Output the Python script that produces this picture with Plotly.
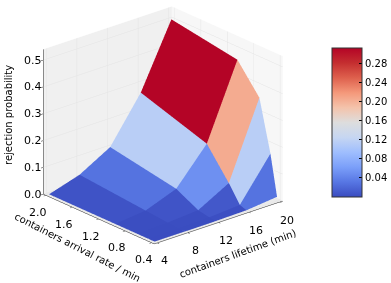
import plotly.graph_objects as go

lifetimes = [4, 8, 12, 16, 20]
rates = [2.0, 1.0, 0.667, 0.5, 0.4]
# rejection probability, rows follow rates, columns follow lifetimes
rejection = [
    [0.000, 0.035, 0.100, 0.265, 0.500],
    [0.000, 0.012, 0.055, 0.185, 0.460],
    [0.000, 0.004, 0.012, 0.075, 0.355],
    [0.000, 0.001, 0.004, 0.012, 0.165],
    [0.000, 0.000, 0.001, 0.003, 0.015],
]
# flat colour value of each surface cell
cell_values = [
    [0.006, 0.030, 0.115, 0.3125],
    [0.002, 0.007, 0.052, 0.205],
    [0.001, 0.002, 0.010, 0.115],
    [0.000, 0.001, 0.003, 0.030],
]
rate_ticks = [0.4, 0.8, 1.2, 1.6, 2.0]
life_ticks = [4, 8, 12, 16, 20]
z_ticks = [0.0, 0.1, 0.2, 0.3, 0.4, 0.5]
cbar_ticks = [0.04, 0.08, 0.12, 0.16, 0.20, 0.24, 0.28]
life_range = [3.6, 20.4]
rate_range = [0.36, 2.04]
z_range = [0, 0.54]

coolwarm = [
    [0.0, "rgb(58,76,192)"], [0.1, "rgb(87,118,227)"], [0.2, "rgb(123,159,249)"],
    [0.3, "rgb(159,190,254)"], [0.4, "rgb(198,214,242)"], [0.5, "rgb(221,221,221)"],
    [0.6, "rgb(244,195,171)"], [0.7, "rgb(244,152,122)"], [0.8, "rgb(222,96,77)"],
    [0.9, "rgb(196,46,48)"], [1.0, "rgb(180,4,38)"],
]

xs, ys, zs, ia, ib, ic, inten = [], [], [], [], [], [], []
nr, nc = len(rates), len(lifetimes)
for r in range(nr):
    for c in range(nc):
        xs.append(lifetimes[c]); ys.append(rates[r]); zs.append(rejection[r][c])
for r in range(nr - 1):
    for c in range(nc - 1):
        p = r * nc + c
        for tri in ((p, p + 1, p + nc), (p + 1, p + nc + 1, p + nc)):
            ia.append(tri[0]); ib.append(tri[1]); ic.append(tri[2])
            inten.append(cell_values[r][c])

font = dict(family="DejaVu Sans", size=10, color="#000")
tick_font = dict(family="DejaVu Sans", size=11, color="#000")
fig = go.Figure(go.Mesh3d(
    x=xs, y=ys, z=zs, i=ia, j=ib, k=ic,
    intensity=inten, intensitymode="cell",
    colorscale=coolwarm, cmin=0, cmax=0.3125, flatshading=True,
    lighting=dict(ambient=1, diffuse=0, specular=0, roughness=1, fresnel=0),
    hoverinfo="skip",
    colorbar=dict(
        x=332 / 391, xanchor="left", y=1 - 197 / 283, yanchor="bottom",
        len=149 / 283, lenmode="fraction", thickness=30, thicknessmode="pixels",
        tickvals=cbar_ticks, ticktext=[f"{v:.2f}" for v in cbar_ticks],
        ticks="inside", ticklabelposition="outside", ticklen=3, tickcolor="#000",
        outlinecolor="#333", outlinewidth=1,
        tickfont=font, xpad=0, ypad=0,
    ),
))

def axis(ticks, rng, bg):
    return dict(
        title=dict(text=""), range=rng, tickvals=ticks, showticklabels=False,
        showbackground=True, backgroundcolor=bg,
        gridcolor="rgb(228,228,228)", gridwidth=1, zeroline=False, showline=True,
        linecolor="#222", linewidth=1, ticks="outside", ticklen=3, tickcolor="#222",
        showspikes=False,
    )

titles = [
    dict(text="rejection probability", x=8 / 391, y=1 - 115 / 283, textangle=-90),
    dict(text="containers arrival rate / min", x=78 / 391, y=1 - 247 / 283, textangle=27),
    dict(text="containers lifetime (min)", x=238 / 391, y=1 - 253.5 / 283, textangle=-20),
]

def tick_label(x, y, z, text, dx, dy):
    return dict(x=x, y=y, z=z, text=text, showarrow=False, font=tick_font,
                xanchor="center", yanchor="middle", xshift=dx, yshift=dy)

scene_labels = (
    [tick_label(v, rate_range[0], 0, str(v), 7, -18) for v in life_ticks]
    + [tick_label(life_range[0], v, 0, f"{v:.1f}", -8, -17) for v in rate_ticks]
    + [tick_label(life_range[0], rate_range[1], v, f"{v:.1f}", -10, 0) for v in z_ticks]
)

fig.update_layout(
    width=391, height=283, margin=dict(l=0, r=0, t=0, b=0),
    paper_bgcolor="white", font=font, showlegend=False,
    annotations=[dict(xref="paper", yref="paper", showarrow=False, font=font,
                      xanchor="center", yanchor="middle", **t) for t in titles],
    scene=dict(
        domain=dict(x=[0, 0.835], y=[0, 1]),
        annotations=scene_labels,
        xaxis=axis(life_ticks, life_range, "rgb(247,247,247)"),
        yaxis=axis(rate_ticks, rate_range, "rgb(240,240,240)"),
        zaxis=axis(z_ticks, z_range, "rgb(235,235,235)"),
        aspectmode="manual", aspectratio=dict(x=1.2, y=1.2, z=1.11),
        camera=dict(eye=dict(x=-0.832, y=-0.964, z=0.41),
                    center=dict(x=0, y=0, z=-0.125), up=dict(x=0, y=0, z=1),
                    projection=dict(type="orthographic")),
    ),
)
fig.write_html("out.html", config=dict(displayModeBar=False),
               post_script="document.body.style.margin='0';document.body.style.overflow='hidden';")
